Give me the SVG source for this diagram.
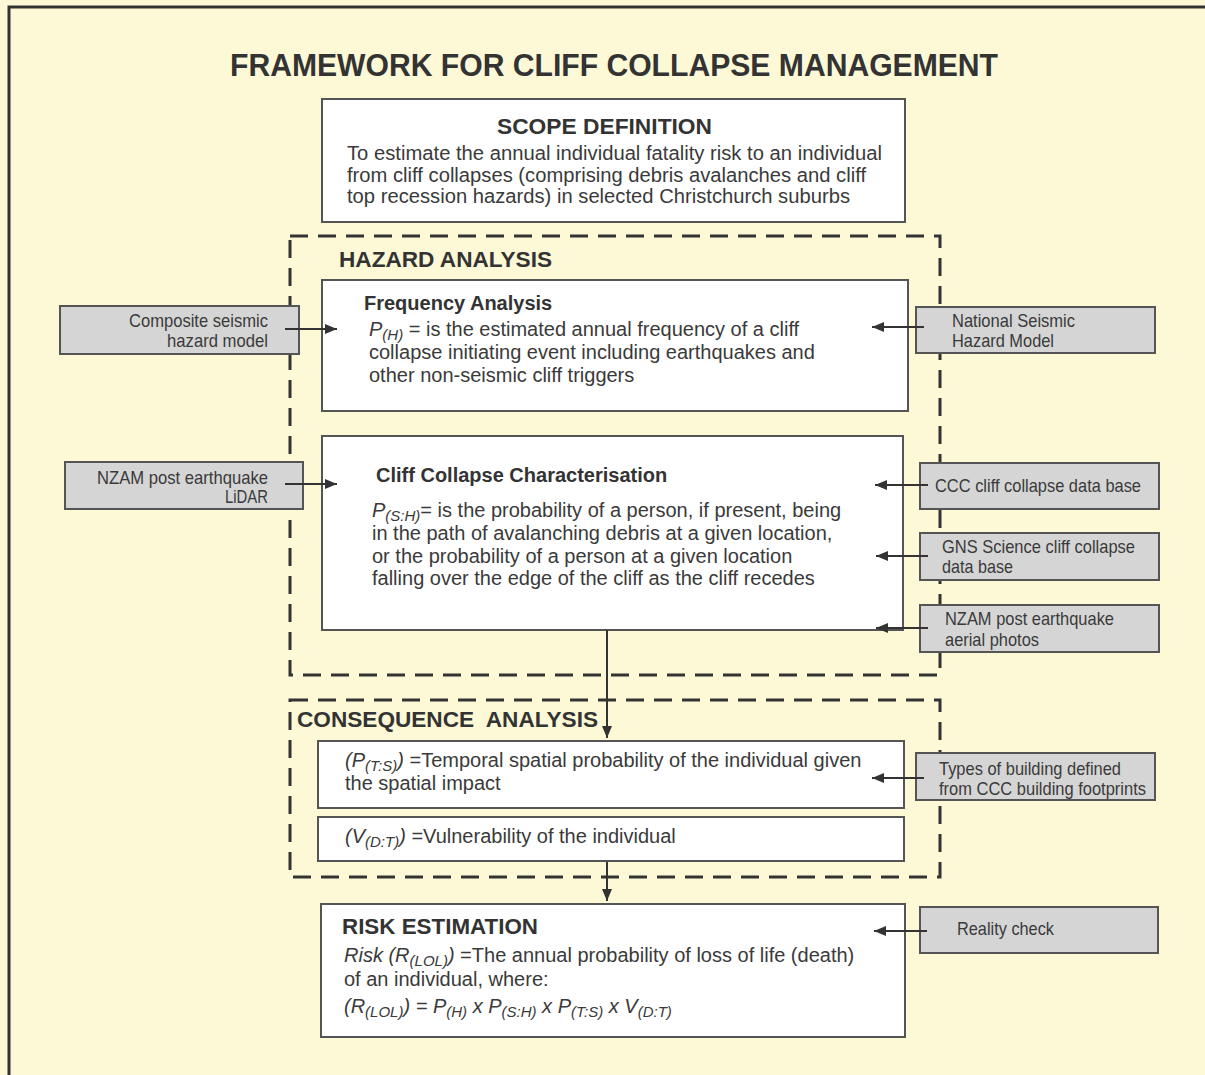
<svg xmlns="http://www.w3.org/2000/svg" width="1205" height="1075" viewBox="0 0 1205 1075">
<defs>
<marker id="ah" viewBox="0 0 12 10" refX="12" refY="5" markerWidth="12" markerHeight="10" markerUnits="userSpaceOnUse" orient="auto">
<path d="M0,0 L12,5 L0,10 z" fill="#333"/>
</marker>
<style>
.frame{fill:none;stroke:#333;stroke-width:3}
.box{fill:#fff;stroke:#555;stroke-width:2}
.gbox{fill:#d5d5d5;stroke:#555;stroke-width:2}
.dash{fill:none;stroke:#333;stroke-width:3;stroke-dasharray:18 10}
.conn{fill:none;stroke:#333;stroke-width:2;marker-end:url(#ah)}
text{font-family:"Liberation Sans",Arial,sans-serif;fill:#3a3a3a}
.title{font-size:32px;font-weight:bold;fill:#333}
.head{font-size:22px;font-weight:bold;fill:#333}
.sub{font-size:20px;font-weight:bold;fill:#333}
.body{font-size:20px}
.g{font-size:19px}
.i{font-style:italic}
.s{font-size:15px;font-style:italic}
</style>
</defs>
<rect x="0" y="0" width="1205" height="1075" fill="#fdf9d6"/>
<path class="frame" d="M9,1075 L9,7 L1205,7"/>

<text class="title" x="230" y="76" textLength="768" lengthAdjust="spacingAndGlyphs">FRAMEWORK FOR CLIFF COLLAPSE MANAGEMENT</text>

<g id="dashed-frames">
<rect class="dash" x="290" y="236" width="650" height="439"/>
<rect class="dash" x="290" y="700" width="650" height="177"/>
</g>

<g id="scope">
<rect class="box" x="322" y="99" width="583" height="123"/>
<text class="head" x="497" y="134" textLength="215" lengthAdjust="spacingAndGlyphs">SCOPE DEFINITION</text>
<text class="body" x="347" y="160" textLength="535" lengthAdjust="spacingAndGlyphs">To estimate the annual individual fatality risk to an individual</text>
<text class="body" x="347" y="182" textLength="519" lengthAdjust="spacingAndGlyphs">from cliff collapses (comprising debris avalanches and cliff</text>
<text class="body" x="347" y="203" textLength="503" lengthAdjust="spacingAndGlyphs">top recession hazards) in selected Christchurch suburbs</text>
</g>

<text class="head" x="339" y="267" textLength="213" lengthAdjust="spacingAndGlyphs">HAZARD ANALYSIS</text>

<g id="frequency">
<rect class="box" x="322" y="280" width="586" height="131"/>
<text class="sub" x="364" y="310">Frequency Analysis</text>
<text class="body" x="369" y="336"><tspan class="i">P</tspan><tspan class="s" dy="4">(H)</tspan><tspan dy="-4"> = is the estimated annual frequency of a cliff</tspan></text>
<text class="body" x="369" y="359">collapse initiating event including earthquakes and</text>
<text class="body" x="369" y="382">other non-seismic cliff triggers</text>
</g>

<g id="cliff">
<rect class="box" x="322" y="436" width="581" height="194"/>
<text class="sub" x="376" y="482">Cliff Collapse Characterisation</text>
<text class="body" x="372" y="517"><tspan class="i">P</tspan><tspan class="s" dy="4">(S:H)</tspan><tspan dy="-4">= is the probability of a person, if present, being</tspan></text>
<text class="body" x="372" y="540">in the path of avalanching debris at a given location,</text>
<text class="body" x="372" y="563">or the probability of a person at a given location</text>
<text class="body" x="372" y="585">falling over the edge of the cliff as the cliff recedes</text>
</g>

<text class="head" x="297" y="727" textLength="301" lengthAdjust="spacingAndGlyphs" xml:space="preserve">CONSEQUENCE  ANALYSIS</text>

<g id="temporal">
<rect class="box" x="318" y="741" width="586" height="67"/>
<text class="body" x="345" y="767"><tspan class="i">(P</tspan><tspan class="s" dy="4">(T:S)</tspan><tspan class="i" dy="-4">)</tspan><tspan> =Temporal spatial probability of the individual given</tspan></text>
<text class="body" x="345" y="790">the spatial impact</text>
</g>

<g id="vulnerability">
<rect class="box" x="318" y="817" width="586" height="44"/>
<text class="body" x="345" y="843"><tspan class="i">(V</tspan><tspan class="s" dy="4">(D:T)</tspan><tspan class="i" dy="-4">)</tspan><tspan> =Vulnerability of the individual</tspan></text>
</g>

<g id="risk">
<rect class="box" x="321" y="904" width="584" height="133"/>
<text class="head" x="342" y="934" textLength="196" lengthAdjust="spacingAndGlyphs">RISK ESTIMATION</text>
<text class="body" x="344" y="962"><tspan class="i">Risk (R</tspan><tspan class="s" dy="4">(LOL)</tspan><tspan class="i" dy="-4">)</tspan><tspan> =The annual probability of loss of life (death)</tspan></text>
<text class="body" x="344" y="986">of an individual, where:</text>
<text class="body i" x="344" y="1013"><tspan>(R</tspan><tspan class="s" dy="4">(LOL)</tspan><tspan dy="-4">) = P</tspan><tspan class="s" dy="4">(H)</tspan><tspan dy="-4"> x P</tspan><tspan class="s" dy="4">(S:H)</tspan><tspan dy="-4"> x P</tspan><tspan class="s" dy="4">(T:S)</tspan><tspan dy="-4"> x V</tspan><tspan class="s" dy="4">(D:T)</tspan></text>
</g>

<g id="composite">
<rect class="gbox" x="60" y="306" width="239" height="48"/>
<text class="g" x="268" y="327" text-anchor="end" textLength="139" lengthAdjust="spacingAndGlyphs">Composite seismic</text>
<text class="g" x="268" y="347" text-anchor="end" textLength="101" lengthAdjust="spacingAndGlyphs">hazard model</text>
</g>

<g id="lidar">
<rect class="gbox" x="65" y="462" width="238" height="47"/>
<text class="g" x="268" y="484" text-anchor="end" textLength="171" lengthAdjust="spacingAndGlyphs">NZAM post earthquake</text>
<text class="g" x="268" y="503" text-anchor="end" textLength="43" lengthAdjust="spacingAndGlyphs">LiDAR</text>
</g>

<g id="nshm">
<rect class="gbox" x="916" y="307" width="239" height="46"/>
<text class="g" x="952" y="327" textLength="123" lengthAdjust="spacingAndGlyphs">National Seismic</text>
<text class="g" x="952" y="347" textLength="102" lengthAdjust="spacingAndGlyphs">Hazard Model</text>
</g>

<g id="ccc">
<rect class="gbox" x="920" y="463" width="239" height="46"/>
<text class="g" x="935" y="492" textLength="206" lengthAdjust="spacingAndGlyphs">CCC cliff collapse data base</text>
</g>

<g id="gns">
<rect class="gbox" x="920" y="533" width="239" height="47"/>
<text class="g" x="942" y="553" textLength="193" lengthAdjust="spacingAndGlyphs">GNS Science cliff collapse</text>
<text class="g" x="942" y="573" textLength="71" lengthAdjust="spacingAndGlyphs">data base</text>
</g>

<g id="aerial">
<rect class="gbox" x="920" y="605" width="239" height="47"/>
<text class="g" x="945" y="625" textLength="169" lengthAdjust="spacingAndGlyphs">NZAM post earthquake</text>
<text class="g" x="945" y="646" textLength="94" lengthAdjust="spacingAndGlyphs">aerial photos</text>
</g>

<g id="types">
<rect class="gbox" x="916" y="753" width="239" height="47"/>
<text class="g" x="939" y="775" textLength="182" lengthAdjust="spacingAndGlyphs">Types of building defined</text>
<text class="g" x="939" y="795" textLength="207" lengthAdjust="spacingAndGlyphs">from CCC building footprints</text>
</g>

<g id="reality">
<rect class="gbox" x="920" y="907" width="238" height="46"/>
<text class="g" x="957" y="935" textLength="97" lengthAdjust="spacingAndGlyphs">Reality check</text>
</g>

<g id="connectors">
<line class="conn" x1="285" y1="329" x2="337" y2="329"/>
<line class="conn" x1="285" y1="484" x2="337" y2="484"/>
<line class="conn" x1="924" y1="327" x2="872" y2="327"/>
<line class="conn" x1="928" y1="485" x2="875" y2="485"/>
<line class="conn" x1="928" y1="556" x2="876" y2="556"/>
<line class="conn" x1="928" y1="628" x2="876" y2="628"/>
<line class="conn" x1="924" y1="778" x2="872" y2="778"/>
<line class="conn" x1="927" y1="931" x2="874" y2="931"/>
<line class="conn" x1="607" y1="630" x2="607" y2="738"/>
<line class="conn" x1="607" y1="862" x2="607" y2="901"/>
</g>
</svg>
